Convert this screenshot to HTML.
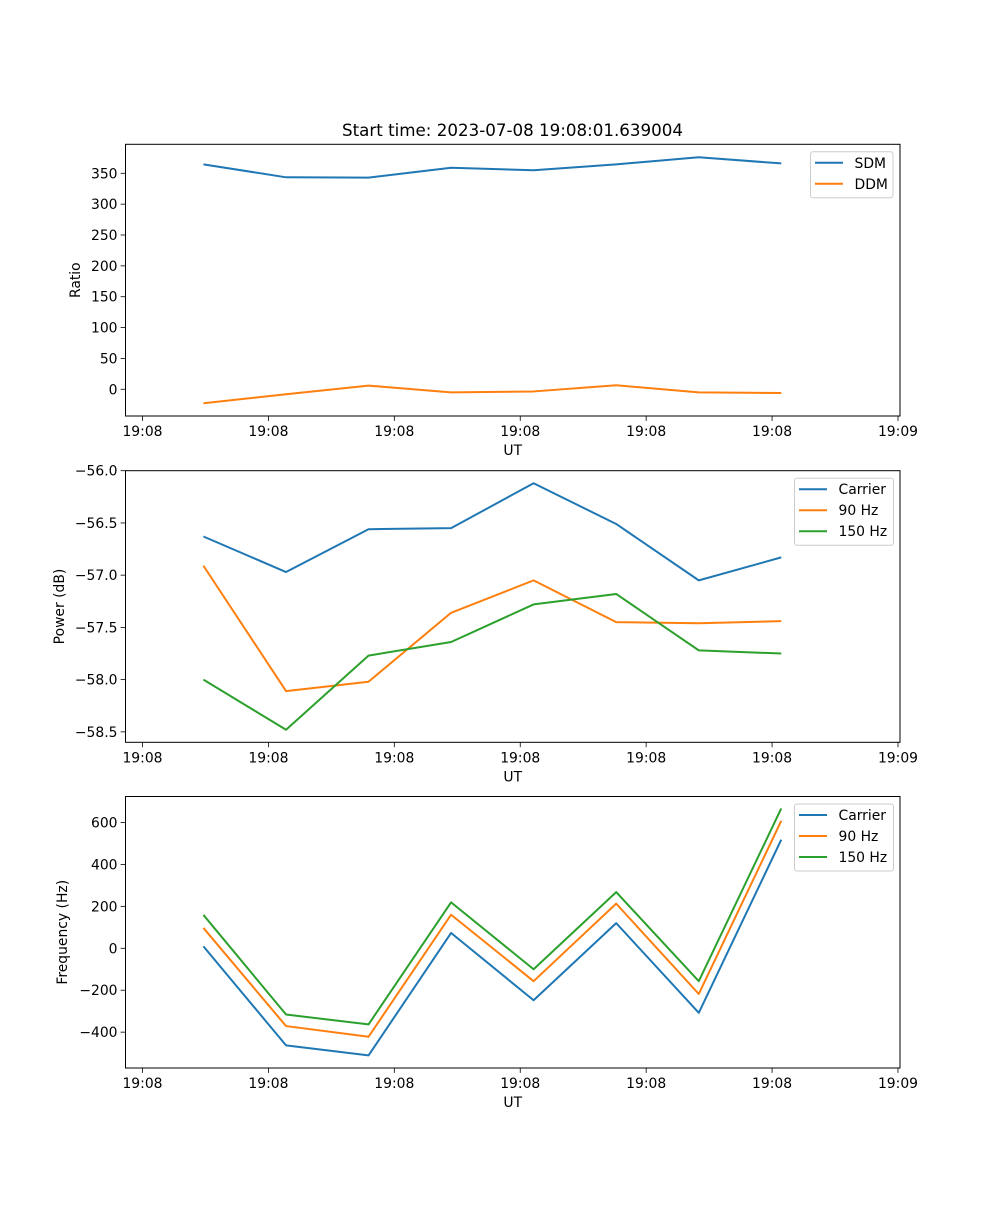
<!DOCTYPE html>
<html><head><meta charset="utf-8"><style>
body{margin:0;background:#fff}
svg text{font-family:"DejaVu Sans","Liberation Sans",sans-serif;font-size:13.9px;fill:#000}
</style></head><body>
<svg id="fig" width="1000" height="1200" viewBox="0 0 1000 1200" xmlns="http://www.w3.org/2000/svg">
<rect width="1000" height="1200" fill="#fff"/>
<text x="512.5" y="136" text-anchor="middle" style="font-size:16.7px">Start time: 2023-07-08 19:08:01.639004</text>
</svg>
<script>
const times = [4.84, 11.40, 17.95, 24.51, 31.06, 37.62, 44.18, 50.73];
const xTicks = [0, 10, 20, 30, 40, 50, 60];
const xTickLabels = ["19:08","19:08","19:08","19:08","19:08","19:08","19:09"];
const sdm = [364.5, 343.5, 343, 359, 355, 364.5, 376, 366];
const ddm = [-22.6, -8, 6, -5, -3.5, 6.5, -5, -6];
const ratioTicks = [0, 50, 100, 150, 200, 250, 300, 350];
const powCarrier = [-56.63, -56.97, -56.56, -56.55, -56.12, -56.51, -57.05, -56.83];
const pow90 = [-56.91, -58.11, -58.02, -57.36, -57.05, -57.45, -57.46, -57.44];
const pow150 = [-58.0, -58.48, -57.77, -57.64, -57.28, -57.18, -57.72, -57.75];
const powTicks = [-58.5, -58.0, -57.5, -57.0, -56.5, -56.0];
const freqCarrier = [9, -463, -511, 73, -248, 120, -308, 518];
const freq90 = [97, -371, -422, 160, -157, 213, -218, 608];
const freq150 = [159, -316, -363, 219, -100, 268, -157, 667];
const freqTicks = [-400, -200, 0, 200, 400, 600];

const NS="http://www.w3.org/2000/svg";
const svg=document.getElementById('fig');
function mk(tag,attrs,parent){const e=document.createElementNS(NS,tag);for(const k in attrs)e.setAttribute(k,attrs[k]);(parent||svg).appendChild(e);return e;}
const L=125.5,R=900;
const xmin=-1.35,xmax=60.16;
function xs(v){return L+(v-xmin)/(xmax-xmin)*(R-L);}

function panel(id,top,bot,ymin,ymax,yTicks,yFmt,ylabel,ylabelX,series,legend){
  const g=mk('g',{});
  
  
  const ys=v=>bot-(v-ymin)/(ymax-ymin)*(bot-top);
  series.forEach(s=>{
    const p=mk('polyline',{points:s.data.map((v,i)=>xs(times[i]).toFixed(2)+','+ys(v).toFixed(2)).join(' '),fill:'none',stroke:s.color,'stroke-width':2,'stroke-linejoin':'round'},g);
    
    
  });
  const frame=mk('rect',{x:L,y:top,width:R-L,height:bot-top,fill:'none',stroke:'#000','stroke-width':1},g);
  
  
  xTicks.forEach((t,i)=>{
    const x=xs(t);
    mk('line',{x1:x,x2:x,y1:bot,y2:bot+4.9,stroke:'#000','stroke-width':0.8},g);
    const tx=mk('text',{x:x,y:bot+20,'text-anchor':'middle'},g);
    tx.textContent=xTickLabels[i];
    
    
  });
  yTicks.forEach(t=>{
    const y=ys(t);
    mk('line',{x1:L-4.9,x2:L,y1:y,y2:y,stroke:'#000','stroke-width':0.8},g);
    const tx=mk('text',{x:L-8,y:y+5,'text-anchor':'end'},g);
    tx.textContent=yFmt(t);
    
    
  });
  const xl=mk('text',{x:(L+R)/2,y:bot+39,'text-anchor':'middle'},g);
  xl.textContent='UT';
  
  
  const cy=(top+bot)/2;
  const yl=mk('text',{x:ylabelX,y:cy,'text-anchor':'middle',transform:'rotate(-90 '+ylabelX+' '+cy+')'},g);
  yl.textContent=ylabel;
  
  
  const lg=mk('g',{},g);
  
  
  mk('rect',{x:legend.x,y:top+7.5,width:legend.w,height:series.length*21+4,rx:2.5,fill:'#fff','fill-opacity':0.8,stroke:'#ccc','stroke-width':1},lg);
  series.forEach((s,i)=>{
    const y=top+18.5+i*21;
    mk('line',{x1:legend.x+4.5,x2:legend.x+32.5,y1:y,y2:y,stroke:s.color,'stroke-width':2},lg);
    const t=mk('text',{x:legend.x+44,y:y+5},lg);
    t.textContent=s.name;
    
    
  });
}
const C1='#1f77b4',C2='#ff7f0e',C3='#2ca02c';
panel('ratio',144.3,416,-43.3,397,ratioTicks,v=>String(v),'Ratio',80,
  [{key:'sdm',name:'SDM',data:sdm,color:C1},{key:'ddm',name:'DDM',data:ddm,color:C2}],{x:810.5,w:82.5});
panel('power',470.7,742.3,-58.6,-56.0,powTicks,v=>v.toFixed(1).replace('-','\u2212'),'Power (dB)',64,
  [{key:'carrier',name:'Carrier',data:powCarrier,color:C1},{key:'90hz',name:'90 Hz',data:pow90,color:C2},{key:'150hz',name:'150 Hz',data:pow150,color:C3}],{x:794.5,w:99});
panel('frequency',796.5,1068,-571,724,freqTicks,v=>String(v).replace('-','\u2212'),'Frequency (Hz)',67,
  [{key:'carrier',name:'Carrier',data:freqCarrier,color:C1},{key:'90hz',name:'90 Hz',data:freq90,color:C2},{key:'150hz',name:'150 Hz',data:freq150,color:C3}],{x:794.5,w:99});
</script>
</body></html>
